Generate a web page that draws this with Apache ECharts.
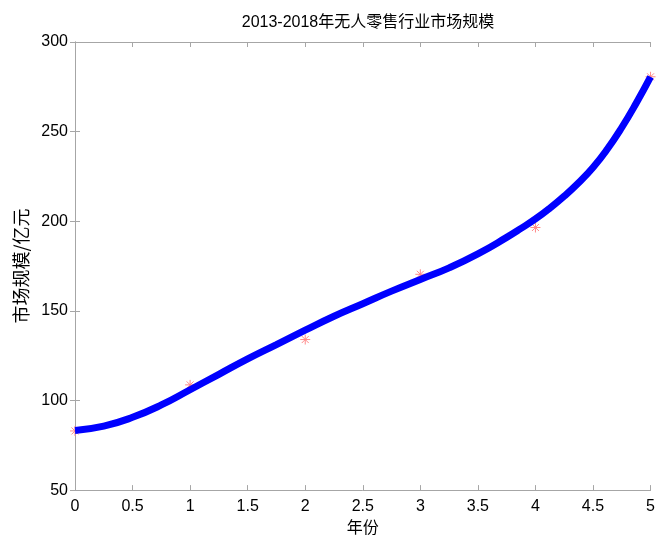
<!DOCTYPE html>
<html>
<head>
<meta charset="utf-8">
<script src="https://cdn.jsdelivr.net/npm/echarts@6/dist/echarts.min.js"></script>
<style>
  html, body { margin: 0; padding: 0; background: #fff; }
  #main { width: 658px; height: 540px; }
</style>
</head>
<body>
<div id="main"></div>
<script>
// 原始数据点（红色星号）
var dataX = [0, 1, 2, 3, 4, 5];
var dataY = [83, 108.7, 134, 170.4, 196.5, 280.6];

// 拟合曲线（蓝色粗线）
var fitX = [0, 0.25, 0.5, 0.75, 1, 1.25, 1.5, 1.75, 2, 2.25, 2.5,
            2.75, 3, 3.25, 3.5, 3.75, 3.875, 4, 4.125, 4.25, 4.375,
            4.5, 4.625, 4.75, 4.875, 5];
var fitY = [83.3, 85.7, 90.6, 97.5, 106, 114.6, 123.2, 131.2, 139.2, 147, 154,
            161, 167.5, 174, 181.8, 191, 196, 201.3, 207.3, 214, 221.5,
            230, 240.3, 252.3, 265.8, 280.5];

var xTicks = { min: 0, max: 5, interval: 0.5 };
var yTicks = { min: 50, max: 300, interval: 50 };

var myChart = echarts.init(document.getElementById('main'));

var axisGray = '#a6a6a6';
var labelFont = { color: '#000', fontSize: 16, fontFamily: 'Liberation Sans, Arial, sans-serif' };

function pairs(xs, ys) {
    var out = [];
    for (var i = 0; i < xs.length; i++) out.push([xs[i], ys[i]]);
    return out;
}

var option = {
    backgroundColor: '#fff',
    animation: false,
    title: {
        text: '2013-2018年无人零售行业市场规模',
        left: 363,
        textAlign: 'center',
        top: 10,
        textStyle: {
            color: '#000',
            fontSize: 16,
            fontWeight: 'normal',
            fontFamily: 'Liberation Sans, Noto Sans CJK SC, sans-serif'
        }
    },
    grid: { left: 75, right: 6, top: 42, bottom: 45 },
    xAxis: [
        {
            type: 'value',
            position: 'bottom',
            min: xTicks.min, max: xTicks.max, interval: xTicks.interval,
            name: '年份',
            nameLocation: 'middle',
            nameGap: 23,
            nameTextStyle: { color: '#000', fontSize: 16, fontFamily: 'Noto Sans CJK SC' },
            axisLine: { show: true, lineStyle: { color: axisGray, width: 1 } },
            axisTick: { show: true, inside: true, length: 5, lineStyle: { color: axisGray } },
            axisLabel: Object.assign({ margin: 8 }, labelFont),
            splitLine: { show: false }
        },
        {
            type: 'value',
            position: 'top',
            min: xTicks.min, max: xTicks.max, interval: xTicks.interval,
            axisLine: { show: true, lineStyle: { color: axisGray, width: 1 } },
            axisTick: { show: true, inside: true, length: 5, lineStyle: { color: axisGray } },
            axisLabel: { show: false },
            splitLine: { show: false }
        }
    ],
    yAxis: [
        {
            type: 'value',
            position: 'left',
            min: yTicks.min, max: yTicks.max, interval: yTicks.interval,
            name: '市场规模/亿元',
            nameLocation: 'middle',
            nameGap: 44,
            nameTextStyle: { color: '#000', fontSize: 18, fontFamily: 'Noto Sans CJK SC' },
            axisLine: { show: true, lineStyle: { color: axisGray, width: 1 } },
            axisTick: { show: true, inside: true, length: 5, lineStyle: { color: axisGray } },
            axisLabel: Object.assign({ margin: 7 }, labelFont),
            splitLine: { show: false }
        },
        {
            type: 'value',
            position: 'right',
            min: yTicks.min, max: yTicks.max, interval: yTicks.interval,
            axisLine: { show: true, lineStyle: { color: axisGray, width: 1 } },
            axisTick: { show: true, inside: true, length: 5, lineStyle: { color: axisGray } },
            axisLabel: { show: false },
            splitLine: { show: false }
        }
    ],
    series: [
        {
            // 星号标记
            type: 'scatter',
            xAxisIndex: 0,
            yAxisIndex: 0,
            clip: false,
            symbol: 'path://M5,0L5,10M0,5L10,5M1.5,1.5L8.5,8.5M1.5,8.5L8.5,1.5',
            symbolSize: 10,
            itemStyle: { color: 'rgba(0,0,0,0)', borderColor: '#ff8a8a', borderWidth: 1, opacity: 1 },
            data: pairs(dataX, dataY)
        },
        {
            // 拟合曲线
            type: 'line',
            xAxisIndex: 0,
            yAxisIndex: 0,
            smooth: true,
            showSymbol: false,
            symbol: 'none',
            lineStyle: { color: '#0000ff', width: 7 },
            data: pairs(fitX, fitY)
        }
    ]
};

myChart.setOption(option);

window.addEventListener('resize', function() {
    myChart.resize();
});
</script>
</body>
</html>
